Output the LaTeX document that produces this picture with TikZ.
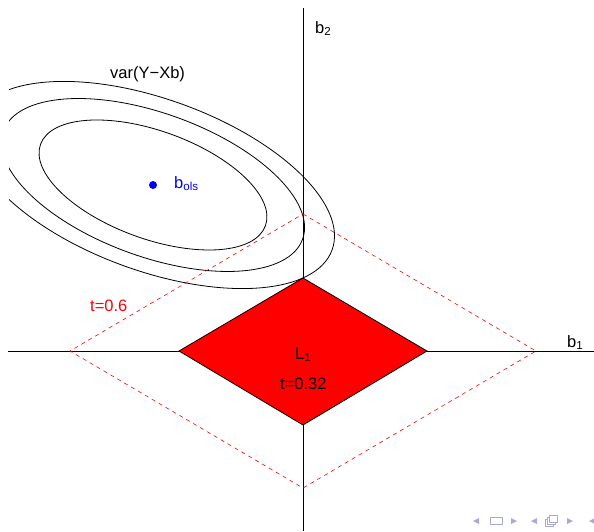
\documentclass[tikz,border=0pt]{standalone}
\usepackage{fontspec}
\setmainfont{Liberation Sans}
\definecolor{navc}{RGB}{170,170,215}
\definecolor{olsblue}{RGB}{0,0,255}
\begin{document}
\begin{tikzpicture}[x=1pt,y=-1pt,
  axis/.style={line width=0.8pt, black},
  ell/.style={line width=0.8pt, black},
  dsh/.style={red, line width=0.6pt, dash pattern=on 4pt off 4pt},
  lbl/.style={font=\fontsize{16.5}{19}\selectfont, inner sep=0pt, anchor=base west},
  nav/.style={fill=navc, draw=none}]
\useasboundingbox (0,0) rectangle (594,531);
% key points
\coordinate (O) at (303,351);
\coordinate (bols) at (153,185);
\coordinate (ytop) at (303,8);
\coordinate (ybot) at (303,531);
\coordinate (xlft) at (8,351);
\coordinate (xrgt) at (594,351);
\coordinate (sN) at (303,278);
\coordinate (sW) at (179,351);
\coordinate (sE) at (427,351);
\coordinate (sS) at (303,425);
\coordinate (dN) at (303,214);
\coordinate (dW) at (70,351);
\coordinate (dE) at (536,351);
\coordinate (dS) at (303,488);
% axes
\draw[axis] (xlft) -- (xrgt);
\draw[axis] (ytop) -- (ybot);
% contour ellipses
\begin{scope}
\clip (9,8) rectangle (594,531);
\draw[ell, rotate around={-19.9:(bols)}] (bols) ellipse [x radius=119.6pt, y radius=53.9pt];
\draw[ell, rotate around={-19.9:(bols)}] (bols) ellipse [x radius=159.1pt, y radius=71.7pt];
\draw[ell, rotate around={-19.9:(bols)}] (bols) ellipse [x radius=190.5pt, y radius=85.9pt];
\end{scope}
% dashed diamond t=0.6
\draw[dsh] (dN) -- (dE) -- (dS) -- (dW) -- cycle;
% solid diamond t=0.32
\draw[fill=red, draw=black, line width=0.8pt, line join=miter] (sN) -- (sE) -- (sS) -- (sW) -- cycle;
% b_ols point
\fill[olsblue] (bols) circle (4pt);
% labels
\node[lbl] (lvar) at (110,78) {var(Y−Xb)};
\node[lbl, text=olsblue] (lols) at (174,188) {b\textsubscript{ols}};
\node[lbl] (lb2) at (315,33) {b\textsubscript{2}};
\node[lbl] (lb1) at (567,347) {b\textsubscript{1}};
\node[lbl, text=red] (lt6) at (90,311) {t=0.6};
\node[lbl] (lL1) at (295,359) {L\textsubscript{1}};
\node[lbl] (lt32) at (280,389) {t=0.32};
% navigation symbols
\fill[nav] (473,521) -- (479,518) -- (479,524) -- cycle;
\draw[navc, line width=1pt] (490,517.5) rectangle (502,524.5);
\fill[nav] (517,521) -- (511,518) -- (511,524) -- cycle;
\fill[nav] (531,521) -- (537,518) -- (537,524) -- cycle;
\draw[navc, line width=0.9pt, fill=white] (545,519) rectangle (553,526);
\draw[navc, line width=0.9pt, fill=white] (547,517) rectangle (555,524);
\draw[navc, line width=0.9pt, fill=white] (549,515) rectangle (557,522);
\fill[nav] (573,521) -- (567,518) -- (567,524) -- cycle;
\fill[nav] (589,521) -- (595,518) -- (595,524) -- cycle;
\end{tikzpicture}
\end{document}
